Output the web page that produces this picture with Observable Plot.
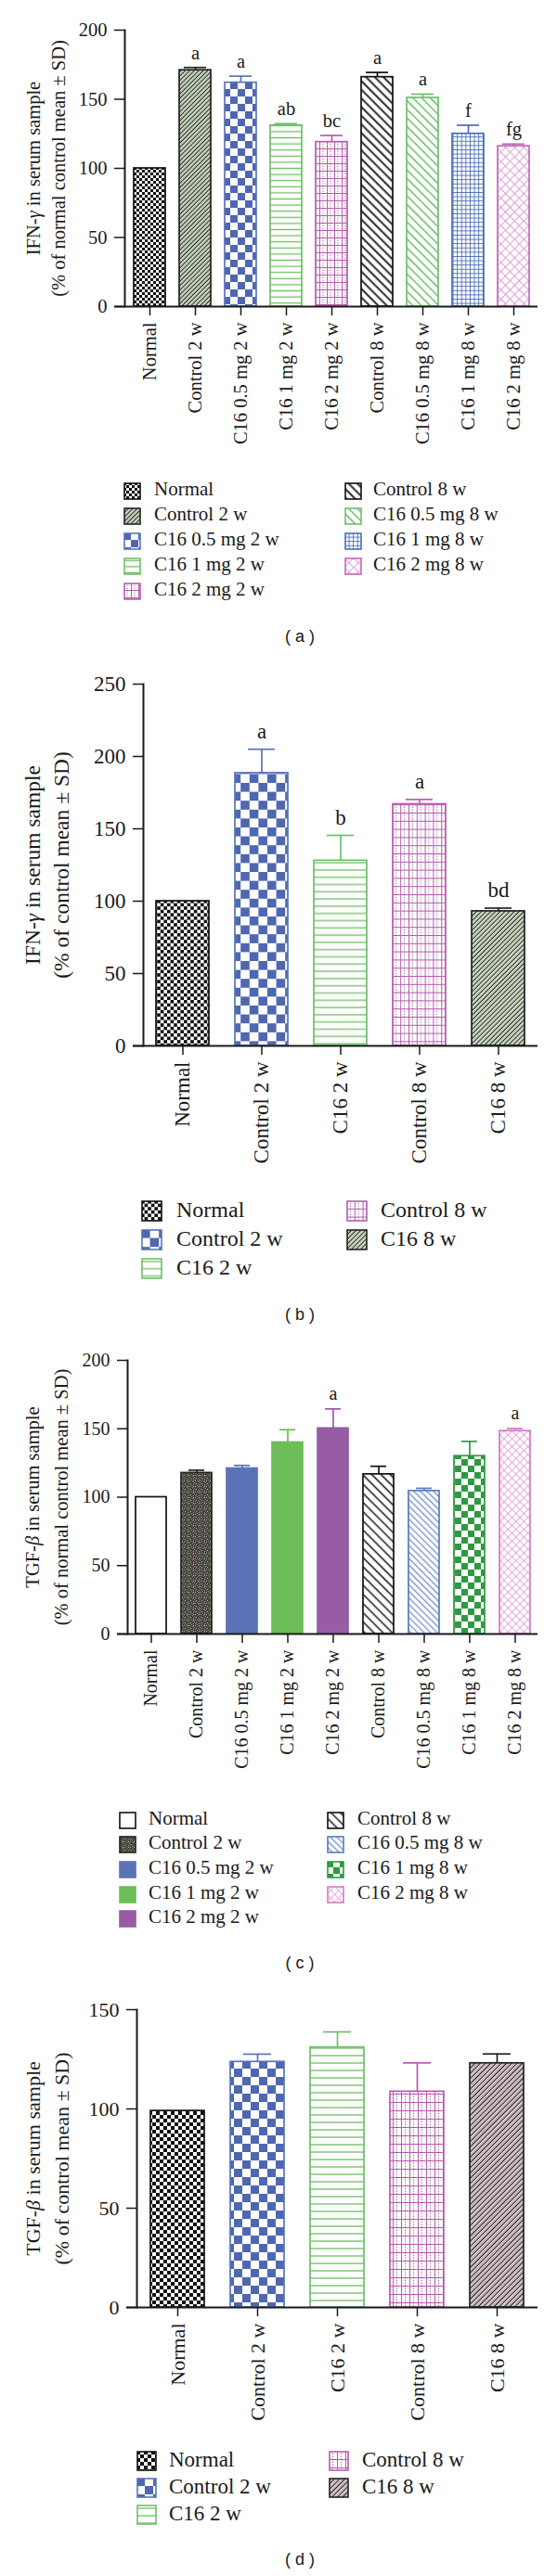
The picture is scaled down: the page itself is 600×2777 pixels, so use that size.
<!DOCTYPE html>
<html>
<head>
<meta charset="utf-8">
<script src="https://cdn.jsdelivr.net/npm/d3@7"></script>
<script src="https://cdn.jsdelivr.net/npm/@observablehq/plot@0.6"></script>
<style>
  html, body { margin: 0; padding: 0; background: #fff; }
  body { position: relative; width: 600px; height: 2777px; overflow: hidden; font-family: "Liberation Serif", "Times New Roman", serif; color: #1a1a1a; }
  .panel { position: absolute; left: 0; }
  .sw { position: absolute; display: block; }
  .lt { position: absolute; white-space: nowrap; line-height: 1; }
  .cap { position: absolute; font-family: "Liberation Sans", Arial, sans-serif; font-size: 18px; transform: translateX(-50%); white-space: pre; }
</style>
</head>
<body>
<script>
// ---------- Data: panel (a) IFN-γ, dose groups ----------
const aGroups = ["Normal", "Control 2 w", "C16 0.5 mg 2 w", "C16 1 mg 2 w", "C16 2 mg 2 w", "Control 8 w", "C16 0.5 mg 8 w", "C16 1 mg 8 w", "C16 2 mg 8 w"];
const aMean = [100, 171, 162, 131, 119, 166, 151, 125, 116];
const aSD = [0, 2, 4.7, 1.3, 4.8, 3.4, 2.7, 6.2, 1.6];
const aLetter = ["", "a", "a", "ab", "bc", "a", "a", "f", "fg"];
const aTicks = [0, 50, 100, 150, 200];

// ---------- Data: panel (b) IFN-γ ----------
const bGroups = ["Normal", "Control 2 w", "C16 2 w", "Control 8 w", "C16 8 w"];
const bMean = [100, 188.5, 128, 167, 93];
const bSD = [0, 16.5, 17.5, 3.3, 2.2];
const bLetter = ["", "a", "b", "a", "bd"];
const bTicks = [0, 50, 100, 150, 200, 250];

// ---------- Data: panel (c) TGF-β, dose groups ----------
const cGroups = ["Normal", "Control 2 w", "C16 0.5 mg 2 w", "C16 1 mg 2 w", "C16 2 mg 2 w", "Control 8 w", "C16 0.5 mg 8 w", "C16 1 mg 8 w", "C16 2 mg 8 w"];
const cMean = [100, 117.7, 121, 140, 150.3, 116.7, 104.5, 130, 148.3];
const cSD = [0, 2, 2.2, 9.3, 14.2, 5.9, 2, 10.8, 1.9];
const cLetter = ["", "", "", "", "a", "", "", "", "a"];
const cTicks = [0, 50, 100, 150, 200];

// ---------- Data: panel (d) TGF-β ----------
const dGroups = ["Normal", "Control 2 w", "C16 2 w", "Control 8 w", "C16 8 w"];
const dMean = [99, 123.7, 131, 108.7, 123];
const dSD = [0, 3.9, 7.8, 14.5, 4.7];
const dLetter = ["", "", "", "", ""];
const dTicks = [0, 50, 100, 150];

// ---------- Pattern helpers ----------
function checker(id, c, s, bg = "#fff") {
  return `<pattern id="${id}" patternUnits="userSpaceOnUse" width="${2*s}" height="${2*s}"><rect width="${2*s}" height="${2*s}" fill="${bg}"/><rect width="${s}" height="${s}" fill="${c}"/><rect x="${s}" y="${s}" width="${s}" height="${s}" fill="${c}"/></pattern>`;
}
function hlines(id, c, s, w) {
  return `<pattern id="${id}" patternUnits="userSpaceOnUse" width="${s}" height="${s}"><rect width="${s}" height="${s}" fill="#fff"/><line x1="0" x2="${s}" y1="${s/2}" y2="${s/2}" stroke="${c}" stroke-width="${w}"/></pattern>`;
}
function diag(id, c, s, w, ang, bg = "#fff", c2 = null) {
  const extra = c2 ? `<line x1="${s*0.85}" x2="${s*0.85}" y1="0" y2="${s}" stroke="${c2}" stroke-width="${w*0.8}"/>` : "";
  return `<pattern id="${id}" patternUnits="userSpaceOnUse" width="${s}" height="${s}" patternTransform="rotate(${ang})"><rect width="${s}" height="${s}" fill="${bg}"/><line x1="${s*0.35}" x2="${s*0.35}" y1="0" y2="${s}" stroke="${c}" stroke-width="${w}"/>${extra}</pattern>`;
}
function grid(id, c, s, w, ang = 0, c2 = null) {
  const extra = c2 ? `<line x1="${s/2}" x2="${s/2}" y1="0" y2="${s}" stroke="${c2}" stroke-width="0.8" stroke-dasharray="1.2 1.6"/>` : "";
  return `<pattern id="${id}" patternUnits="userSpaceOnUse" width="${s}" height="${s}" patternTransform="rotate(${ang})"><rect width="${s}" height="${s}" fill="#fff"/><line x1="0.5" x2="0.5" y1="0" y2="${s}" stroke="${c}" stroke-width="${w}"/><line x1="0" x2="${s}" y1="0.5" y2="0.5" stroke="${c}" stroke-width="${w}"/>${extra}</pattern>`;
}
function solid(id, c) {
  return `<pattern id="${id}" patternUnits="userSpaceOnUse" width="4" height="4"><rect width="4" height="4" fill="${c}"/></pattern>`;
}
function noise(id) {
  return `<pattern id="${id}" patternUnits="userSpaceOnUse" width="6" height="6"><rect width="6" height="6" fill="#46453f"/>` +
    `<rect x="0" y="0" width="1" height="1" fill="#8fae7c"/><rect x="3" y="1" width="1" height="1" fill="#9a6a8a"/>` +
    `<rect x="1" y="3" width="1" height="1" fill="#a8a8a0"/><rect x="4" y="4" width="1" height="1" fill="#7fa070"/>` +
    `<rect x="5" y="2" width="1" height="1" fill="#b07aa0"/><rect x="2" y="5" width="1" height="1" fill="#6d8f63"/>` +
    `<rect x="4" y="0" width="1" height="1" fill="#c0c0b8"/><rect x="0" y="4" width="1" height="1" fill="#8a5a7a"/></pattern>`;
}

// ---------- Panel styles (patterns, outline colours) ----------
const aPatterns = [
  checker("pa0", "#111", 3),
  diag("pa1", "#1a1a1a", 3.4, 1.1, 45, "#eef2e6", "#a9c99a"),
  checker("pa2", "#4f67b1", 8),
  hlines("pa3", "#6cbf5e", 6.6, 1.3),
  grid("pa4", "#bb5cb2", 8, 1.1, 0, "#7a3d6a"),
  diag("pa5", "#111", 6.6, 1.8, -45),
  diag("pa6", "#5cb85c", 6.6, 1.4, -45),
  grid("pa7", "#4a6cb8", 4.6, 0.9),
  grid("pa8", "#dc95d2", 7, 0.9, 45)
];
const aStroke = ["#111", "#222", "#5b73b8", "#6cc06a", "#b85cb0", "#111", "#6cc06a", "#4a6cb8", "#c266b8"];

const bPatterns = [
  checker("pb0", "#111", 3.6),
  checker("pb1", "#4f67b1", 9.6),
  hlines("pb2", "#6cbf5e", 7.8, 1.3),
  grid("pb3", "#bb5cb2", 8.8, 1.1, 0, "#7a3d6a"),
  diag("pb4", "#1a1a1a", 3.6, 1.1, 45, "#eef2e6", "#a9c99a")
];
const bStroke = ["#111", "#5b73b8", "#6cc06a", "#b85cb0", "#222"];

const cPatterns = [
  solid("pc0", "#fff"),
  noise("pc1"),
  solid("pc2", "#5b73b6"),
  solid("pc3", "#6dbd58"),
  solid("pc4", "#985ca6"),
  diag("pc5", "#111", 7, 1.5, -45),
  diag("pc6", "#5a7ac0", 5, 1.1, -45),
  checker("pc7", "#2e9a40", 7),
  grid("pc8", "#e2a4da", 6, 0.9, 45)
];
const cStroke = ["#111", "#222", "#5b73b6", "#6dbd58", "#985ca6", "#111", "#5a7ac0", "#2e9a40", "#d27ac8"];

const dPatterns = [
  checker("pd0", "#111", 4),
  checker("pd1", "#4f67b1", 9),
  hlines("pd2", "#6cbf5e", 8, 1.3),
  grid("pd3", "#bb5cb2", 9, 1.1, 0, "#7a3d6a"),
  diag("pd4", "#1a1a1a", 4, 1.2, 45, "#eef2e6", "#c98fb5")
];
const dStroke = ["#111", "#5b73b8", "#6cc06a", "#b85cb0", "#222"];

const serif = '"Liberation Serif", "Times New Roman", serif';

function italicizeGreek(svg) {
  svg.querySelectorAll("text, tspan").forEach(el => {
    if (el.children.length) return;
    const s = el.textContent;
    const m = s.match(/[\u03b3\u03b2]/);
    if (!m) return;
    const i = m.index;
    el.textContent = "";
    const ns = "http://www.w3.org/2000/svg";
    const a = document.createElementNS(ns, "tspan"); a.textContent = s.slice(0, i);
    const g = document.createElementNS(ns, "tspan"); g.textContent = s[i]; g.setAttribute("font-style", "italic");
    const b = document.createElementNS(ns, "tspan"); b.textContent = s.slice(i + 1);
    el.append(a, g, b);
  });
}

function drawPanel(cfg) {
  const rows = cfg.groups.map((g, i) => ({
    group: g, mean: cfg.mean[i], sd: cfg.sd[i], top: cfg.mean[i] + cfg.sd[i],
    letter: cfg.letter[i], fill: `url(#${cfg.pid}${i})`, stroke: cfg.stroke[i]
  }));
  const withErr = rows.filter(d => d.sd > 0);
  const lettered = rows.filter(d => d.letter);
  const svg = Plot.plot({
    width: 600,
    height: cfg.height,
    marginLeft: cfg.marginLeft,
    marginRight: 21,
    marginTop: cfg.marginTop,
    marginBottom: cfg.marginBottom,
    style: { fontFamily: serif, color: "#1a1a1a", background: "white", overflow: "visible" },
    x: { domain: cfg.groups, paddingInner: cfg.pad, paddingOuter: cfg.pad / 2 },
    y: { domain: [0, cfg.ticks[cfg.ticks.length - 1]] },
    color: { type: "identity" },
    marks: [
      Plot.barY(rows, { x: "group", y: "mean", fill: "fill", stroke: "stroke", strokeWidth: 1.7 }),
      Plot.ruleX(withErr, { x: "group", y1: "mean", y2: "top", stroke: "stroke", strokeWidth: 1.7 }),
      Plot.tickY(withErr, { x: "group", y: "top", stroke: "stroke", strokeWidth: 1.7, inset: cfg.capInset }),
      Plot.text(lettered, { x: "group", y: "top", text: "letter", dy: cfg.letterDy, lineAnchor: "bottom", fontSize: cfg.fs, fill: "#1a1a1a" }),
      Plot.frame({ anchor: "left", stroke: "#1a1a1a", strokeWidth: 2 }),
      Plot.ruleY([0], { stroke: "#1a1a1a", strokeWidth: 2, insetLeft: -11 }),
      Plot.axisY({ ticks: cfg.ticks, tickSize: 11, tickPadding: 8, fontSize: cfg.fs, strokeWidth: 1.5, label: null }),
      Plot.axisX({ tickSize: 10, tickPadding: 7, tickRotate: -90, fontSize: cfg.fs, strokeWidth: 1.5, label: null }),
      Plot.text([cfg.title1 + "\n" + cfg.title2], {
        text: d => d, frameAnchor: "left", dx: cfg.titleX - cfg.marginLeft, rotate: -90,
        textAnchor: "middle", lineAnchor: "middle", fontSize: cfg.titleFs, lineHeight: cfg.titleGap / cfg.titleFs, fill: "#1a1a1a"
      })
    ]
  });
  svg.insertAdjacentHTML("afterbegin", "<defs>" + cfg.patterns.join("") + "</defs>");
  italicizeGreek(svg);
  const wrap = document.createElement("div");
  wrap.className = "panel";
  wrap.style.top = cfg.top + "px";
  wrap.appendChild(svg);
  document.body.appendChild(wrap);

  // legend
  const nLeft = Math.ceil(cfg.groups.length / 2);
  cfg.groups.forEach((g, i) => {
    const col = i < nLeft ? 0 : 1;
    const row = col === 0 ? i : i - nLeft;
    const yc = cfg.legRows[row];
    const s = cfg.legSw;
    const sw = document.createElementNS("http://www.w3.org/2000/svg", "svg");
    sw.setAttribute("class", "sw");
    sw.setAttribute("width", s + 2);
    sw.setAttribute("height", s + 2);
    sw.style.left = (cfg.legSwX[col] - 1) + "px";
    sw.style.top = (yc - s / 2 - 1) + "px";
    sw.innerHTML = `<rect x="1" y="1" width="${s}" height="${s}" fill="url(#${cfg.pid}${i})" stroke="${cfg.stroke[i]}" stroke-width="1.6"/>`;
    document.body.appendChild(sw);
    const t = document.createElement("div");
    t.className = "lt";
    t.textContent = g;
    t.style.fontSize = cfg.legFs + "px";
    t.style.left = cfg.legTextX[col] + "px";
    t.style.top = (yc - cfg.legFs * 0.55) + "px";
    document.body.appendChild(t);
  });
  const cap = document.createElement("div");
  cap.className = "cap";
  cap.textContent = cfg.caption;
  cap.style.left = "323px";
  cap.style.top = (cfg.capY - 11) + "px";
  document.body.appendChild(cap);
}

drawPanel({
  pid: "pa", top: 0, height: 490, marginLeft: 134, marginTop: 32, marginBottom: 160,
  groups: aGroups, mean: aMean, sd: aSD, letter: aLetter, ticks: aTicks,
  patterns: aPatterns, stroke: aStroke, pad: 0.31, capInset: 5, letterDy: -9,
  fs: 20.5, titleFs: 20.5, titleX: 47, titleGap: 27,
  title1: "IFN-\u03b3 in serum sample", title2: "(% of normal control mean \u00b1 SD)",
  legRows: [529, 556, 583, 610, 637], legSw: 17, legSwX: [134, 372], legTextX: [166, 402], legFs: 21,
  caption: "( a )", capY: 687
});

drawPanel({
  pid: "pb", top: 700, height: 580, marginLeft: 154, marginTop: 37, marginBottom: 153,
  groups: bGroups, mean: bMean, sd: bSD, letter: bLetter, ticks: bTicks,
  patterns: bPatterns, stroke: bStroke, pad: 0.335, capInset: 14, letterDy: -12,
  fs: 23, titleFs: 23.5, titleX: 48, titleGap: 31,
  title1: "IFN-\u03b3 in serum sample", title2: "(% of control mean \u00b1 SD)",
  legRows: [1305, 1336, 1367], legSw: 21, legSwX: [153, 374], legTextX: [190, 410], legFs: 24,
  caption: "( b )", capY: 1418
});

drawPanel({
  pid: "pc", top: 1440, height: 480, marginLeft: 137, marginTop: 26, marginBottom: 159,
  groups: cGroups, mean: cMean, sd: cSD, letter: cLetter, ticks: cTicks,
  patterns: cPatterns, stroke: cStroke, pad: 0.33, capInset: 8, letterDy: -10,
  fs: 20, titleFs: 20.5, titleX: 47, titleGap: 31,
  title1: "TGF-\u03b2 in serum sample", title2: "(% of normal control mean \u00b1 SD)",
  legRows: [1962, 1988, 2015, 2042, 2068], legSw: 17, legSwX: [129, 353], legTextX: [160, 385], legFs: 21,
  caption: "( c )", capY: 2117
});

drawPanel({
  pid: "pd", top: 2140, height: 490, marginLeft: 147, marginTop: 26, marginBottom: 143,
  groups: dGroups, mean: dMean, sd: dSD, letter: dLetter, ticks: dTicks,
  patterns: dPatterns, stroke: dStroke, pad: 0.33, capInset: 14, letterDy: -10,
  fs: 22, titleFs: 22, titleX: 48, titleGap: 31,
  title1: "TGF-\u03b2 in serum sample", title2: "(% of control mean \u00b1 SD)",
  legRows: [2653, 2682, 2711], legSw: 20, legSwX: [148, 355], legTextX: [182, 390], legFs: 23,
  caption: "( d )", capY: 2760
});
</script>
</body>
</html>
